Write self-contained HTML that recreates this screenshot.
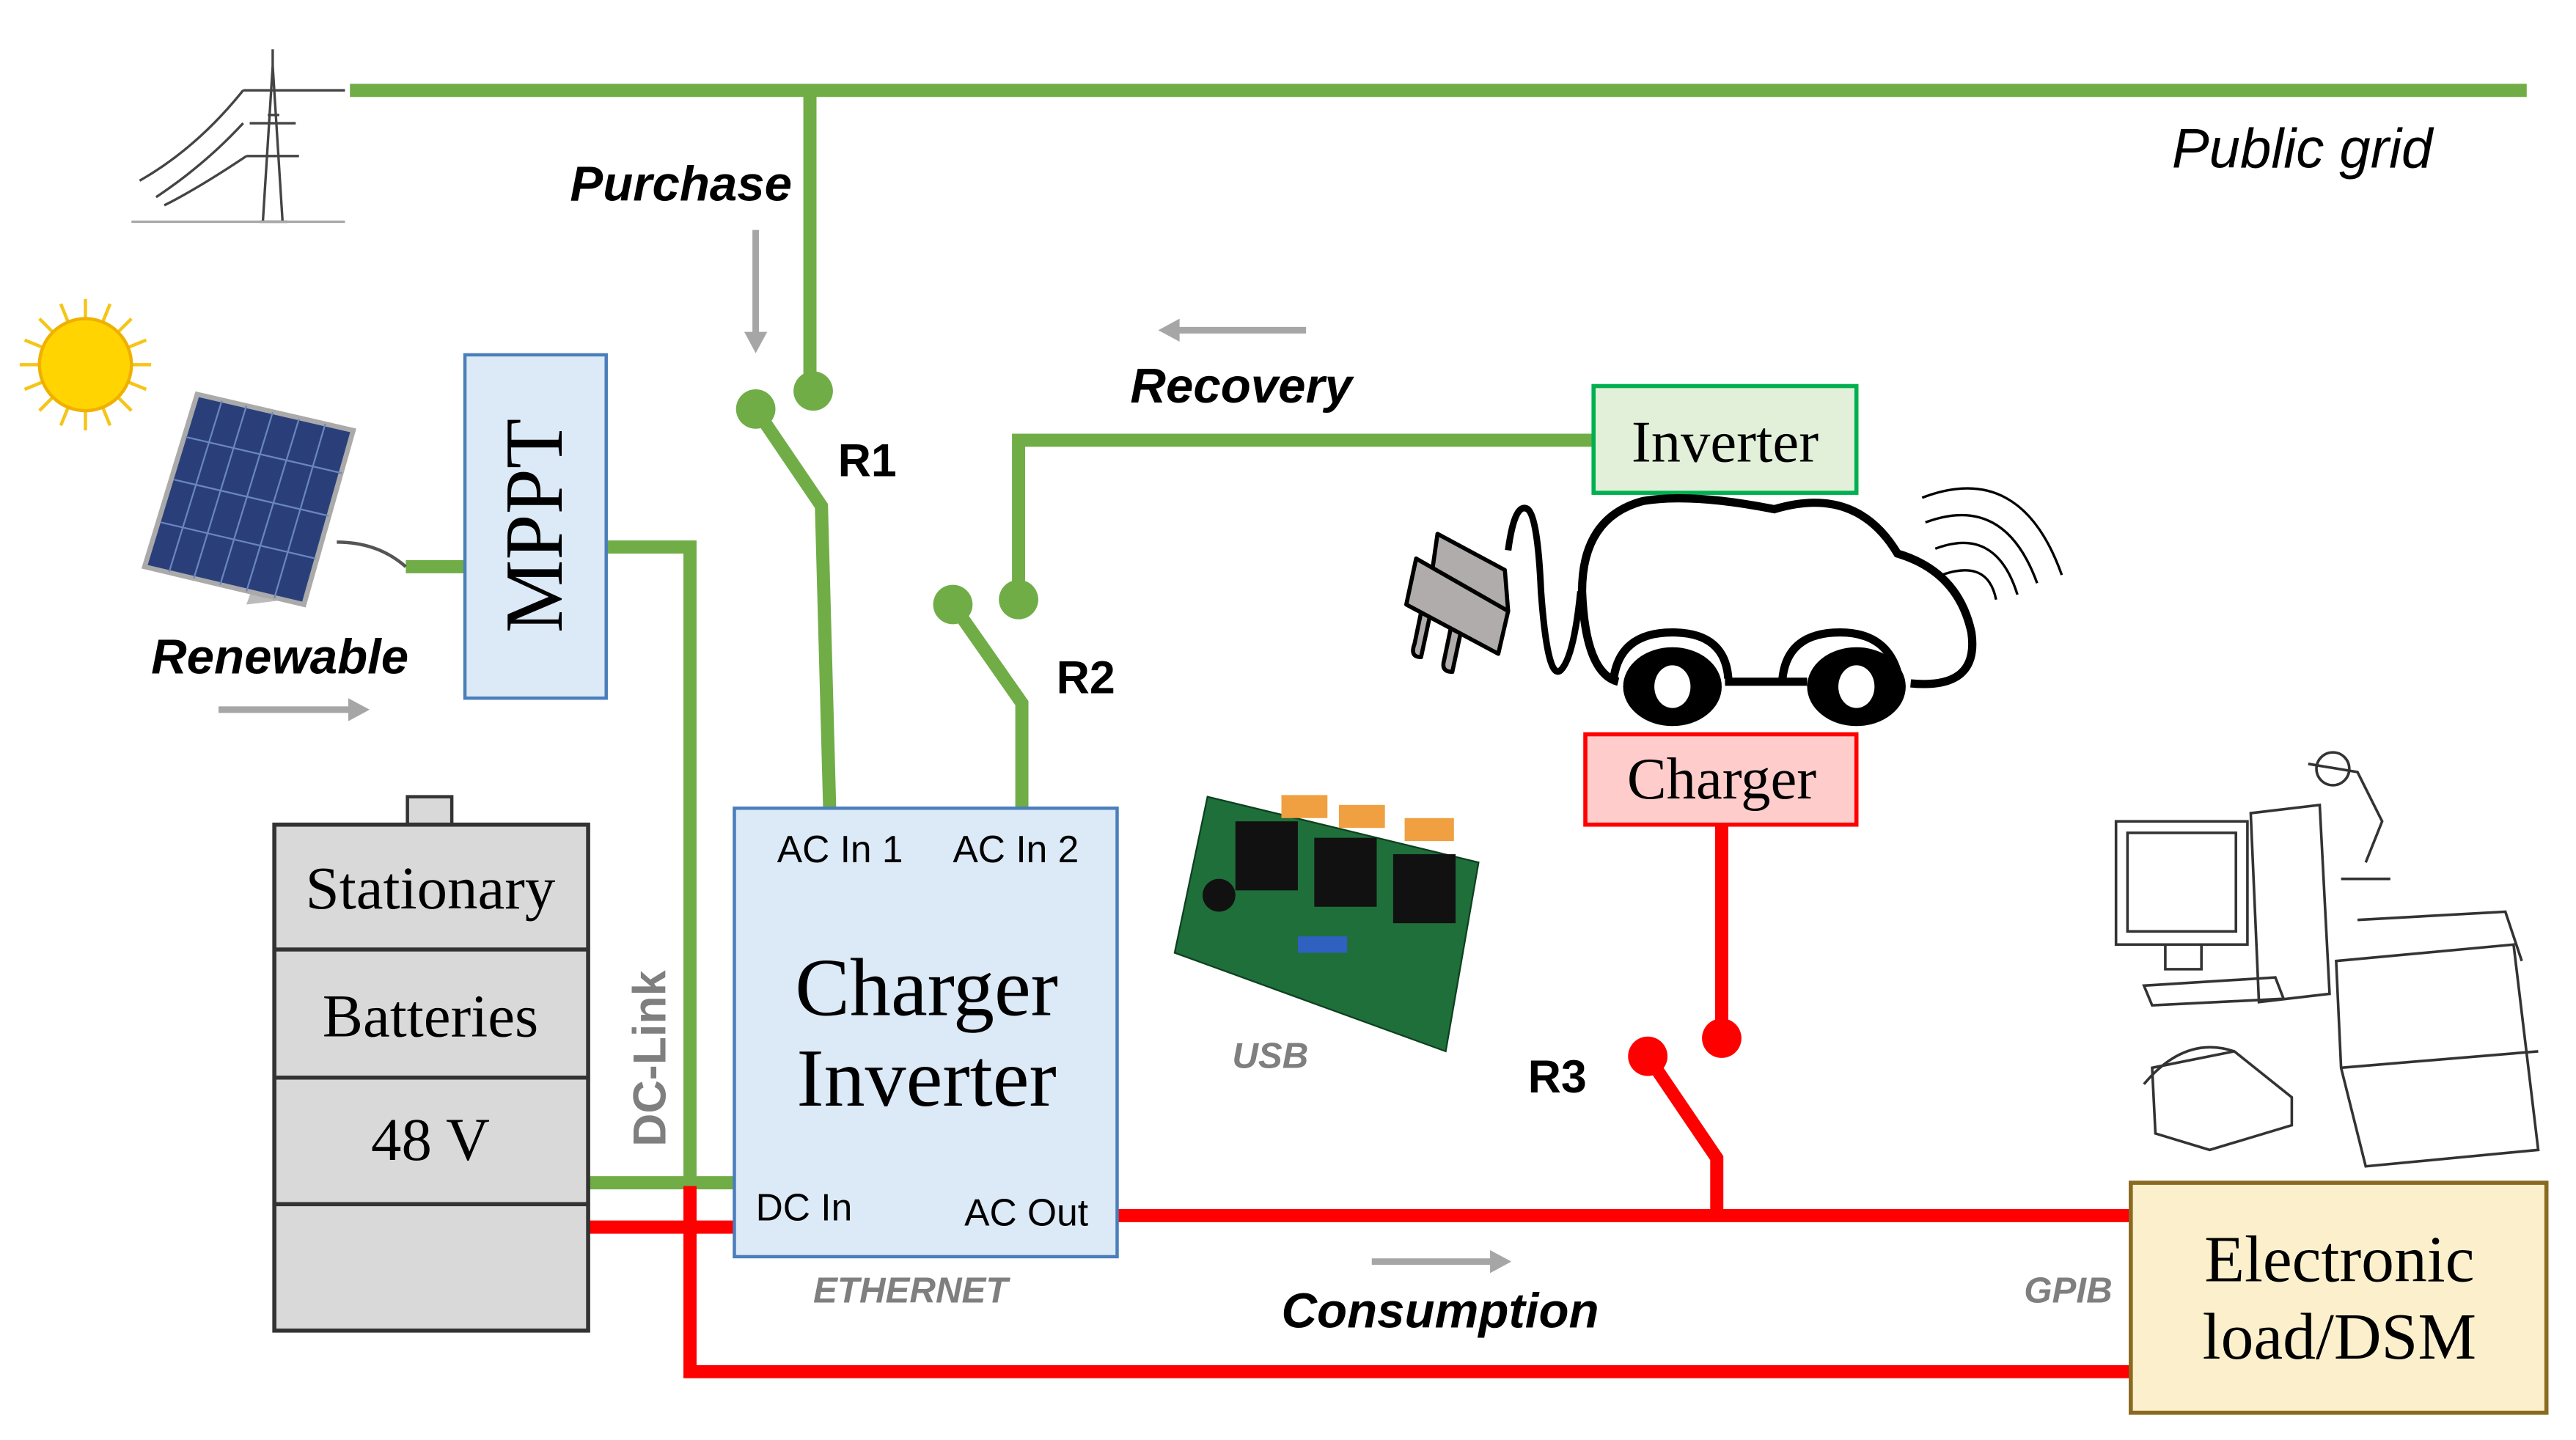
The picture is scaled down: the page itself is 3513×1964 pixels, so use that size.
<!DOCTYPE html>
<html><head><meta charset="utf-8"><style>
html,body{margin:0;padding:0;background:#fff}
svg{display:block}
.s{font-family:"Liberation Serif",serif}
.a{font-family:"Liberation Sans",sans-serif}
</style></head><body>
<svg width="3513" height="1964" viewBox="0 0 1568 876.6" preserveAspectRatio="none" xmlns="http://www.w3.org/2000/svg">
<rect width="1570" height="880" fill="#fff"/>
<!-- tower -->
<g stroke="#444" stroke-width="1.5" fill="none">
<path d="M160 135 L166 40 L172 135 M158 135 L175 135 M163 70 L170 70 M148 55 L185 55 M152 75 L180 75 M150 95 L182 95 M166 40 L166 30"/>
<path d="M148 55 Q120 90 85 110 M148 75 Q125 100 95 120 M185 55 Q195 55 210 55 M150 95 Q120 115 100 125"/>
<path d="M80 135 L210 135" stroke="#aaa"/>
</g>
<!-- grid -->
<g stroke="#70ad47" stroke-width="8" fill="none">
<path d="M213 55 L1538 55"/>
<path d="M493 55 L493 238"/>
<path d="M460 249 L500 308 L505 492"/>
<path d="M970 268 L620 268 L620 365"/>
<path d="M580 368 L622 428 L622 492"/>
<path d="M247 345 L283 345"/>
<path d="M369 333 L420 333 L420 722"/>
<path d="M358 720 L447 720"/>
</g>
<g fill="#70ad47"><circle cx="495" cy="238" r="12"/><circle cx="460" cy="249" r="12"/><circle cx="620" cy="365" r="12"/><circle cx="580" cy="368" r="12"/></g>
<!-- red -->
<g stroke="#ff0000" stroke-width="8" fill="none">
<path d="M1048 502 L1048 632"/>
<path d="M1003 643 L1045 705 L1045 740"/>
<path d="M680 740 L1297 740"/>
<path d="M358 747 L447 747"/>
<path d="M420 722 L420 835 L1297 835"/>
</g>
<g fill="#ff0000"><circle cx="1048" cy="632" r="12"/><circle cx="1003" cy="643" r="12"/></g>
<!-- gray arrows -->
<g stroke="#a6a6a6" stroke-width="4" fill="#a6a6a6">
<path d="M460 140 L460 205"/><path d="M453 202 L460 215 L467 202Z" stroke="none"/>
<path d="M795 201 L715 201"/><path d="M718 194 L705 201 L718 208Z" stroke="none"/>
<path d="M133 432 L215 432"/><path d="M212 425 L225 432 L212 439Z" stroke="none"/>
<path d="M835 768 L910 768"/><path d="M907 761 L920 768 L907 775Z" stroke="none"/>
</g>
<!-- sun -->
<g stroke="#f5c518" stroke-width="2">
<path d="M52 182 L52 262 M12 222 L92 222 M24 194 L80 250 M80 194 L24 250 M37 185 L67 259 M67 185 L37 259 M15 207 L89 237 M15 237 L89 207"/>
</g>
<circle cx="52" cy="222" r="28" fill="#ffd400" stroke="#f0b000" stroke-width="2"/>
<!-- solar panel -->
<path d="M160 340 L175 365 L150 368 Z" fill="#bbb"/>
<path d="M120 240 L215 262 L185 368 L88 345 Z" fill="#2a3f7a" stroke="#aaa" stroke-width="3"/>
<g stroke="#6a86c0" stroke-width="1"><path d="M135 244 L103 348 M150 247 L118 352 M166 251 L134 356 M182 255 L150 360 M198 258 L167 364 M113 266 L208 288 M106 292 L200 314 M98 318 L192 340"/></g>
<path d="M205 330 Q230 330 247 345" stroke="#555" stroke-width="2" fill="none"/>
<!-- MPPT -->
<rect x="283" y="216" width="86" height="209" fill="#dce9f6" stroke="#4a7ebb" stroke-width="2"/>
<text class="s" x="0" y="0" font-size="50" transform="translate(342 320) rotate(-90)" text-anchor="middle">MPPT</text>
<!-- battery -->
<rect x="248" y="485" width="27" height="17" fill="#d9d9d9" stroke="#333" stroke-width="2"/>
<rect x="167" y="502" width="191" height="308" fill="#d9d9d9" stroke="#333" stroke-width="2.5"/>
<path d="M167 578 L358 578 M167 656 L358 656 M167 733 L358 733" stroke="#333" stroke-width="2.5"/>
<text class="s" x="262" y="553" font-size="37" text-anchor="middle">Stationary</text>
<text class="s" x="262" y="631" font-size="37" text-anchor="middle">Batteries</text>
<text class="s" x="262" y="706" font-size="37" text-anchor="middle">48 V</text>
<!-- charger inverter -->
<rect x="447" y="492" width="233" height="273" fill="#dce9f6" stroke="#4a7ebb" stroke-width="2"/>
<text class="a" x="473" y="525" font-size="23">AC In 1</text>
<text class="a" x="580" y="525" font-size="23">AC In 2</text>
<text class="s" x="564" y="618" font-size="50" text-anchor="middle">Charger</text>
<text class="s" x="564" y="673" font-size="50" text-anchor="middle">Inverter</text>
<text class="a" x="460" y="743" font-size="23">DC In</text>
<text class="a" x="587" y="746" font-size="23">AC Out</text>
<!-- inverter & charger boxes -->
<rect x="970" y="235" width="160" height="65" fill="#e2f0d9" stroke="#00b050" stroke-width="2.5"/>
<text class="s" x="1050" y="281" font-size="36" text-anchor="middle">Inverter</text>
<rect x="965" y="447" width="165" height="55" fill="#ffcccc" stroke="#ff0000" stroke-width="2.5"/>
<text class="s" x="1048" y="486" font-size="36" text-anchor="middle">Charger</text>
<!-- load box -->
<rect x="1297" y="720" width="253" height="140" fill="#fcf0cc" stroke="#8a6a20" stroke-width="2.5"/>
<text class="s" x="1424" y="780" font-size="40" text-anchor="middle">Electronic</text>
<text class="s" x="1424" y="827" font-size="40" text-anchor="middle">load/DSM</text>
<!-- car -->
<g fill="none" stroke="#000" stroke-width="5">
<path d="M1050 415 L1100 415"/>
<path d="M1085 413 Q1088 385 1120 385 Q1150 385 1156 413"/>
<path d="M982 415 Q985 385 1018 385 Q1050 385 1052 413"/>
<path d="M1163 416 Q1205 420 1200 385 Q1192 348 1155 337 Q1130 295 1080 310 Q1030 300 1000 305 Q963 315 963 360 Q965 410 985 415"/>
<path d="M918 335 Q922 305 930 310 Q936 315 938 360 Q942 415 950 408 Q958 400 962 360" stroke-width="4"/>
</g>
<ellipse cx="1018" cy="418" rx="30" ry="24" fill="#000"/><ellipse cx="1018" cy="418" rx="11" ry="13" fill="#fff"/>
<ellipse cx="1130" cy="418" rx="30" ry="24" fill="#000"/><ellipse cx="1130" cy="418" rx="11" ry="13" fill="#fff"/>
<g stroke="#000" stroke-width="2.5" fill="#b0acac" stroke-linejoin="round">
<path d="M866 368 L861 392 Q858 400 865 400 L871 372 Z"/>
<path d="M884 378 L879 402 Q877 409 884 409 L890 381 Z"/>
<path d="M875 325 L916 347 L918 372 L905 378 L870 360 Z"/>
<path d="M862 340 L918 372 L912 398 L856 368 Z"/>
</g>
<g fill="none" stroke="#000" stroke-width="1.5">
<path d="M1170 303 Q1230 280 1255 350"/><path d="M1172 318 Q1220 300 1240 355"/><path d="M1178 334 Q1215 320 1228 362"/><path d="M1182 350 Q1210 340 1215 365"/>
</g>
<!-- relay board -->
<path d="M735 485 L900 525 L880 640 L715 580 Z" fill="#1f6f3a" stroke="#0d4020" stroke-width="1"/>
<g fill="#111"><rect x="752" y="500" width="38" height="42"/><rect x="800" y="510" width="38" height="42"/><rect x="848" y="520" width="38" height="42"/><circle cx="742" cy="545" r="10"/></g>
<g fill="#f0a040"><rect x="780" y="484" width="28" height="14"/><rect x="815" y="490" width="28" height="14"/><rect x="855" y="498" width="30" height="14"/></g>
<rect x="790" y="570" width="30" height="10" fill="#3060c0"/>
<!-- office -->
<g fill="none" stroke="#333" stroke-width="1.6">
<rect x="1288" y="500" width="80" height="75"/><rect x="1295" y="507" width="66" height="60"/>
<path d="M1318 575 L1318 590 L1340 590 L1340 575"/>
<path d="M1305 600 L1385 595 L1390 608 L1310 612Z"/>
<path d="M1370 495 L1412 490 L1418 605 L1375 610Z"/>
<path d="M1405 465 L1435 470 L1450 500 L1440 525 M1425 535 L1455 535"/>
<circle cx="1420" cy="468" r="10"/>
<path d="M1422 585 L1530 575 L1545 700 L1440 710 L1425 650Z"/><path d="M1435 560 L1525 555 L1535 585"/><path d="M1425 650 L1545 640"/>
<path d="M1310 650 L1360 640 L1395 668 L1395 685 L1345 700 L1312 690Z"/><path d="M1305 660 Q1330 630 1360 640"/>
</g>
<!-- labels -->
<g class="a" font-weight="bold" font-style="italic" fill="#000">
<text x="347" y="122" font-size="30">Purchase</text>
<text x="688" y="245" font-size="30">Recovery</text>
<text x="92" y="410" font-size="30">Renewable</text>
<text x="780" y="808" font-size="30">Consumption</text>
</g>
<text class="a" x="1322" y="102" font-size="34" font-style="italic">Public grid</text>
<g class="a" font-weight="bold" font-size="28"><text x="510" y="290">R1</text><text x="643" y="422">R2</text><text x="930" y="665">R3</text></g>
<g class="a" font-weight="bold" font-style="italic" fill="#7f7f7f" font-size="22">
<text x="495" y="793">ETHERNET</text><text x="750" y="650">USB</text><text x="1232" y="793">GPIB</text>
</g>
<text class="a" font-weight="bold" fill="#7f7f7f" font-size="28" transform="translate(405 698) rotate(-90)">DC-Link</text>
</svg>
</body></html>
